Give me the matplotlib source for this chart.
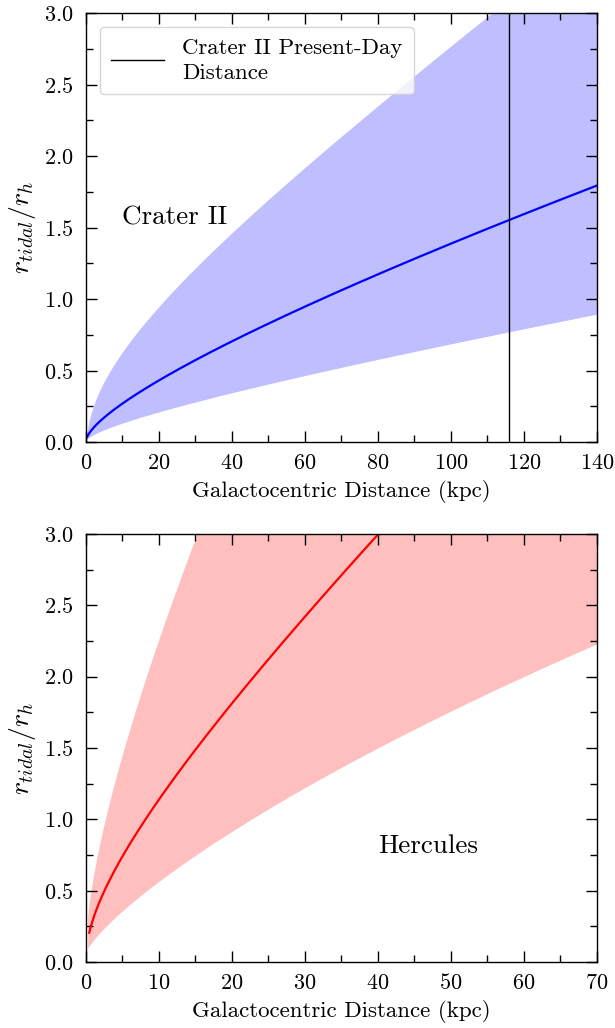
import numpy as np
import matplotlib
matplotlib.use("Agg")
import matplotlib.pyplot as plt
from matplotlib.ticker import MultipleLocator

plt.rcParams['font.family'] = ['cmr10', 'DejaVu Serif']
plt.rcParams['mathtext.fontset'] = 'cm'
plt.rcParams['axes.formatter.use_mathtext'] = True

# ---- Crater II (top panel) ----
crater_x = [0.3, 2, 5, 10, 15, 20, 30, 40, 50, 60, 70, 80, 90, 100, 116, 130, 140]
crater_mid = [0.035, 0.10, 0.17, 0.26, 0.35, 0.435, 0.595, 0.73, 0.835, 0.935,
              1.04, 1.15, 1.26, 1.375, 1.565, 1.71, 1.815]
crater_low_x = [0.3, 5, 10, 20, 30, 40, 50, 60, 70, 80, 100, 116, 140]
crater_low = [0.02, 0.085, 0.13, 0.22, 0.285, 0.345, 0.40, 0.46, 0.51, 0.57, 0.69, 0.78, 0.905]
crater_up_x = [0.3, 2, 5, 10, 15, 20, 30, 40, 50, 60, 70, 80, 90, 100, 110, 140]
crater_up = [0.07, 0.25, 0.42, 0.62, 0.80, 0.96, 1.24, 1.50, 1.70, 1.87, 2.10,
             2.32, 2.55, 2.78, 3.0, 3.63]
crater_present_day = 116

# ---- Hercules (bottom panel) ----
herc_x = [0.45, 1, 2, 3, 4, 6, 8, 10, 12, 14, 16, 18, 20, 24, 28, 32, 36, 40, 50, 60, 70]
herc_mid = [0.206, 0.30, 0.44, 0.56, 0.66, 0.83, 0.98, 1.12, 1.26, 1.40, 1.55, 1.69,
            1.82, 2.08, 2.32, 2.55, 2.78, 3.02, 3.6, 4.1, 4.55]
herc_low_x = [0.3, 1, 2, 4, 6, 8, 10, 12, 14, 16, 20, 25, 30, 35, 40, 45, 50, 55, 60, 65, 70]
herc_low = [0.095, 0.14, 0.20, 0.31, 0.40, 0.49, 0.57, 0.64, 0.71, 0.775, 0.9, 1.05,
            1.19, 1.34, 1.49, 1.62, 1.75, 1.88, 2.0, 2.13, 2.27]
herc_up_x = [0.3, 1, 2, 3, 4, 5, 6, 7, 8, 10, 12, 15, 20, 30, 70]
herc_up = [0.32, 0.60, 0.84, 1.04, 1.22, 1.41, 1.60, 1.78, 1.96, 2.28, 2.60, 3.02, 3.6, 4.8, 9.0]

fig = plt.figure(figsize=(6.15, 10.28), dpi=100)
ax1 = fig.add_axes([0.1398, 0.5700, 0.8309, 0.4173])
ax2 = fig.add_axes([0.1398, 0.0642, 0.8309, 0.4163])


def smooth(xs, xp, yp, deg=3):
    # least-squares smoothing of the read points in log-log space
    c = np.polyfit(np.log(xp), np.log(yp), deg)
    return np.exp(np.polyval(c, np.log(xs)))


def band(ax, xl, yl, xu, yu, xm, ym, color, xmax):
    xs = np.geomspace(min(xl[0], xu[0]), xmax, 800)
    ax.fill_between(xs, smooth(xs, xl, yl), smooth(xs, xu, yu),
                    color=color, alpha=0.25, lw=0)
    xg = np.geomspace(xm[0], xmax, 800)
    ax.plot(xg, smooth(xg, xm, ym), color=color, lw=1.6)


band(ax1, crater_low_x, crater_low, crater_up_x, crater_up, crater_x, crater_mid, 'blue', 140)
ax1.axvline(crater_present_day, color='black', lw=1.0, label='Crater II Present-Day\nDistance')
ax1.set_xlim(0, 140)
ax1.set_ylim(0, 3)
ax1.xaxis.set_major_locator(MultipleLocator(20))
ax1.xaxis.set_minor_locator(MultipleLocator(10))
ax1.text(10, 1.57, 'Crater II', fontsize=19.5, va='center', ha='left')
leg = ax1.legend(loc='upper left', fontsize=16.5, handlelength=2.3, borderpad=0.5,
                 handletextpad=0.8, labelspacing=0.2, borderaxespad=0.6,
                 framealpha=0.8, edgecolor='#cccccc', fancybox=True)
for t in leg.get_texts():
    t.set_linespacing(1.35)

band(ax2, herc_low_x, herc_low, herc_up_x, herc_up, herc_x, herc_mid, 'red', 70)
ax2.set_xlim(0, 70)
ax2.set_ylim(0, 3)
ax2.xaxis.set_major_locator(MultipleLocator(10))
ax2.xaxis.set_minor_locator(MultipleLocator(5))
ax2.text(40, 0.81, 'Hercules', fontsize=19.5, va='center', ha='left')

for ax in (ax1, ax2):
    ax.yaxis.set_major_locator(MultipleLocator(0.5))
    ax.yaxis.set_minor_locator(MultipleLocator(0.25))
    ax.tick_params(which='both', direction='in', top=True, right=True, labelsize=16)
    ax.tick_params(axis='x', which='both', pad=8)
    ax.tick_params(axis='y', which='both', pad=9)
    ax.tick_params(which='major', length=8, width=1.0)
    ax.tick_params(which='minor', length=5, width=1.0)
    ax.set_xlabel('Galactocentric Distance (kpc)', fontsize=16.5, labelpad=5)
    ax.set_ylabel(r'$r_{tidal}/r_h$', fontsize=20, labelpad=4)
    for s in ax.spines.values():
        s.set_linewidth(1.0)

fig.savefig('out.png', dpi=100)
